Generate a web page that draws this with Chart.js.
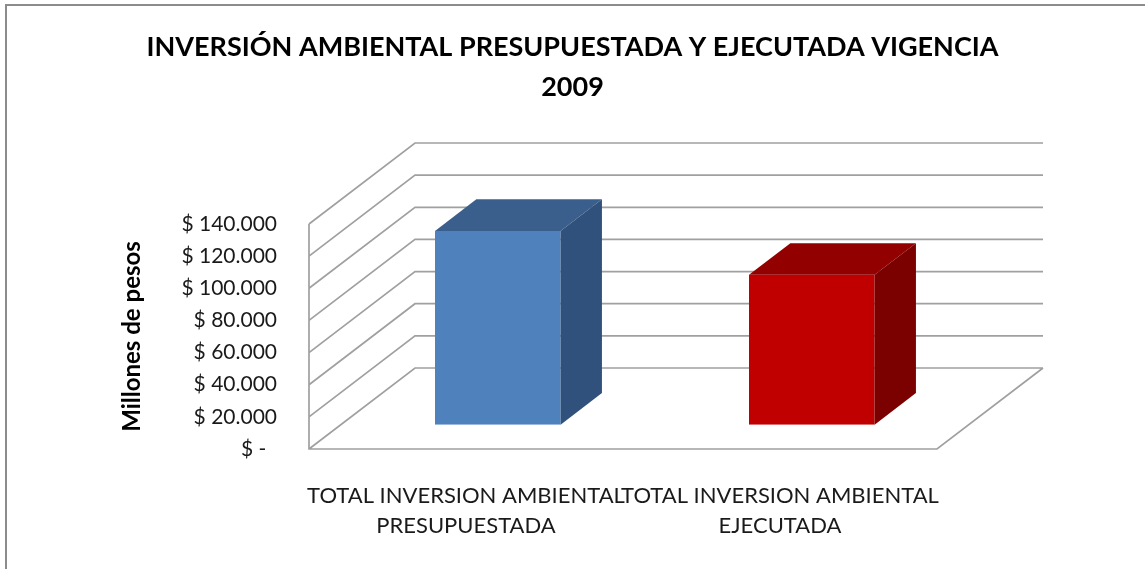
<!DOCTYPE html>
<html lang="es">
<head>
<meta charset="utf-8">
<title>Inversión ambiental 2009</title>
<script src="https://cdn.jsdelivr.net/npm/chart.js@4.4.1/dist/chart.umd.min.js"></script>
<style>
  html, body { margin: 0; padding: 0; background: #fff; }
  canvas { display: block; }
</style>
</head>
<body>
<canvas id="inversionChart" width="1145" height="569"></canvas>
<script>
// Inversión ambiental vigencia 2009, millones de pesos
const categories = [
  ['TOTAL INVERSION AMBIENTAL', 'PRESUPUESTADA'],
  ['TOTAL INVERSION AMBIENTAL', 'EJECUTADA']
];
const investment = [120600, 93300];
const tickValues = [0, 20000, 40000, 60000, 80000, 100000, 120000, 140000];

// face colours per bar: front, top, side
const frontColors = ['#4F81BD', '#C00000'];
const topColors = ['#3B5F8C', '#920000'];
const sideColors = ['#30517B', '#7B0000'];

// oblique depth of the plot box (front plane -> back wall)
const depth = { x: 106, y: -81 };
// bars sit between these fractions of the depth
const barFront = 0.3, barBack = 0.69;

function pesos(v) {
  if (v === 0) return '$ -  ';
  return '$ ' + String(v).replace(/\B(?=(\d{3})+(?!\d))/g, '.');
}

Chart.defaults.font.family = 'Lato';
Chart.defaults.color = '#1a1a1a';

const frame = {
  id: 'frame',
  beforeDraw(chart) {
    const ctx = chart.ctx;
    ctx.save();
    ctx.strokeStyle = '#8c8c8c';
    ctx.lineWidth = 2;
    ctx.beginPath();
    ctx.moveTo(6, chart.height);
    ctx.lineTo(6, 5);
    ctx.lineTo(chart.width, 5);
    ctx.stroke();
    ctx.restore();
  }
};

const box3d = {
  id: 'box3d',
  beforeDatasetsDraw(chart) {
    const { ctx, chartArea: a, scales: { y } } = chart;
    ctx.save();
    ctx.strokeStyle = '#a0a0a0';
    ctx.lineWidth = 1.7;
    ctx.beginPath();
    // gridlines across the side wall and back wall
    tickValues.forEach(v => {
      const py = y.getPixelForValue(v);
      ctx.moveTo(a.left, py);
      ctx.lineTo(a.left + depth.x, py + depth.y);
      ctx.lineTo(a.right + depth.x, py + depth.y);
    });
    // front edge of the wall, then the floor outline
    ctx.moveTo(a.left, y.getPixelForValue(tickValues[tickValues.length - 1]));
    ctx.lineTo(a.left, a.bottom);
    ctx.lineTo(a.right, a.bottom);
    ctx.lineTo(a.right + depth.x, a.bottom + depth.y);
    ctx.stroke();
    ctx.restore();

    // push the front faces back into the box
    ctx.save();
    ctx.translate(depth.x * barFront, depth.y * barFront);
  },
  afterDatasetsDraw(chart) {
    const ctx = chart.ctx;
    ctx.restore();
    const ox = depth.x * barFront, oy = depth.y * barFront;
    const dx = depth.x * (barBack - barFront), dy = depth.y * (barBack - barFront);
    chart.getDatasetMeta(0).data.forEach((bar, i) => {
      const { x, y, base, width } = bar.getProps(['x', 'y', 'base', 'width'], true);
      const x0 = x - width / 2 + ox, x1 = x + width / 2 + ox;
      const top = y + oy, bottom = base + oy;

      ctx.fillStyle = topColors[i];
      ctx.beginPath();
      ctx.moveTo(x0, top);
      ctx.lineTo(x1, top);
      ctx.lineTo(x1 + dx, top + dy);
      ctx.lineTo(x0 + dx, top + dy);
      ctx.closePath();
      ctx.fill();

      ctx.fillStyle = sideColors[i];
      ctx.beginPath();
      ctx.moveTo(x1, top);
      ctx.lineTo(x1 + dx, top + dy);
      ctx.lineTo(x1 + dx, bottom + dy);
      ctx.lineTo(x1, bottom);
      ctx.closePath();
      ctx.fill();
    });
  }
};

new Chart(document.getElementById('inversionChart'), {
  type: 'bar',
  data: {
    labels: categories,
    datasets: [{
      data: investment,
      backgroundColor: frontColors,
      borderWidth: 0,
      barPercentage: 0.4,
      categoryPercentage: 1
    }]
  },
  options: {
    responsive: false,
    animation: false,
    layout: { padding: 0 },
    plugins: {
      legend: { display: false },
      tooltip: { enabled: false },
      title: {
        display: true,
        text: ['INVERSIÓN AMBIENTAL PRESUPUESTADA Y EJECUTADA VIGENCIA', '2009'],
        color: '#000',
        font: { size: 27, weight: 'bold', lineHeight: 40 / 27 },
        padding: { top: 27, bottom: 117 }
      }
    },
    scales: {
      x: {
        grid: { display: false },
        border: { display: false },
        ticks: {
          font: { size: 22, lineHeight: 1.35 },
          padding: 24,
          maxRotation: 0,
          autoSkip: false
        },
        afterFit(s) { s.height = 120; }
      },
      y: {
        min: 0,
        max: 140000,
        afterBuildTicks(s) { s.ticks = tickValues.map(v => ({ value: v })); },
        grid: { display: false },
        border: { display: false },
        ticks: { callback: v => pesos(v), font: { size: 21 }, padding: 24 },
        title: {
          display: true,
          text: 'Millones de pesos',
          color: '#000',
          font: { size: 24, weight: 'bold' },
          padding: { top: 118, bottom: 0 }
        },
        afterFit(s) { s.width = 309; }
      },
      yRight: {
        position: 'right',
        grid: { display: false },
        border: { display: false },
        ticks: { display: false },
        afterFit(s) { s.width = 208; }
      }
    }
  },
  plugins: [frame, box3d]
});
</script>
</body>
</html>
